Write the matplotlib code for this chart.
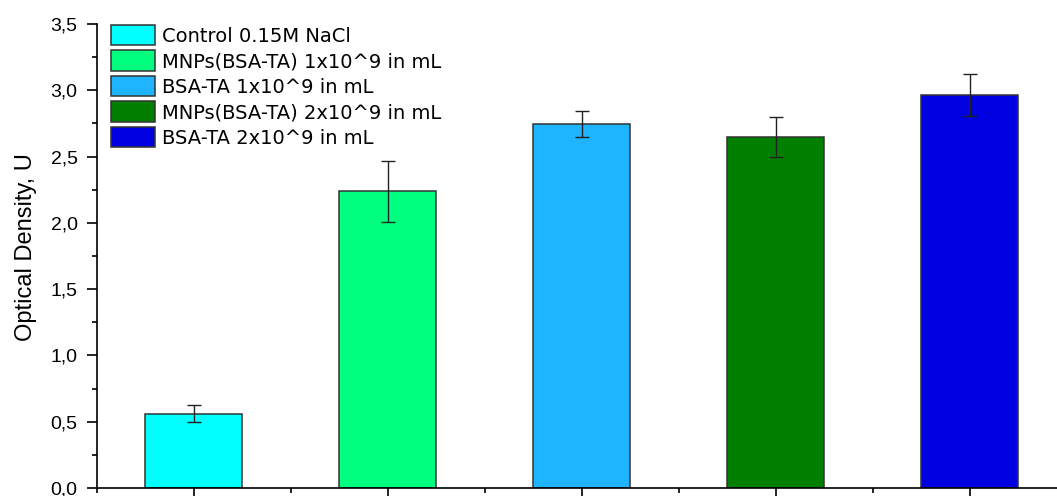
import numpy as np
import matplotlib.pyplot as plt
from matplotlib.ticker import MultipleLocator, FuncFormatter

# dados
grupos = ['Control 0.15M NaCl', 'MNPs(BSA-TA) 1x10^9 in mL', 'BSA-TA 1x10^9 in mL',
          'MNPs(BSA-TA) 2x10^9 in mL', 'BSA-TA 2x10^9 in mL']
valores = [0.56, 2.24, 2.745, 2.645, 2.965]
erros = [0.065, 0.23, 0.095, 0.15, 0.16]
cores = ['#00FFFF', '#00FF7F', '#1EB4FF', '#007F00', '#0000E0']

plt.rcParams['font.family'] = ['Liberation Sans', 'DejaVu Sans']

fig = plt.figure(figsize=(10.57, 4.96), dpi=100)
ax = fig.add_axes([97 / 1057, 8 / 496, 1 - 97 / 1057, 464 / 496])

x = np.arange(1, len(valores) + 1)
for xi, v, e, c, g in zip(x, valores, erros, cores, grupos):
    ax.bar(xi, v, width=0.5, color=c, edgecolor='#333333', linewidth=1.1, label=g, zorder=2)
    ax.errorbar(xi, v, yerr=e, fmt='none', ecolor='#222222', elinewidth=1,
                capsize=5, capthick=1, zorder=3)

ax.set_xlim(0.5, 5.45)
ax.set_ylim(0, 3.5)
ax.spines['top'].set_visible(False)
ax.spines['right'].set_visible(False)
for s in ['left', 'bottom']:
    ax.spines[s].set_linewidth(1.2)

ax.set_xticks(x)
ax.set_xticklabels([])
ax.xaxis.set_minor_locator(MultipleLocator(0.5))
ax.yaxis.set_major_locator(MultipleLocator(0.5))
ax.yaxis.set_minor_locator(MultipleLocator(0.25))
ax.yaxis.set_major_formatter(FuncFormatter(lambda v, p: ('%.1f' % v).replace('.', ',')))
ax.tick_params(axis='both', which='major', direction='out', length=7, width=1.2,
               labelsize=14, pad=7)
ax.tick_params(axis='both', which='minor', direction='out', length=3.5, width=1.2)

ax.set_ylabel('Optical Density, U', fontsize=17)
ax.yaxis.set_label_coords(-0.063, 0.519)

ax.legend(loc='upper left', bbox_to_anchor=(0.0146, 0.998), frameon=False,
          prop={'family': 'DejaVu Sans', 'size': 14},
          handlelength=2.26, handleheight=1.25, handletextpad=0.36, labelspacing=0.24,
          borderaxespad=0, borderpad=0)

fig.savefig('out.png', dpi=100)
